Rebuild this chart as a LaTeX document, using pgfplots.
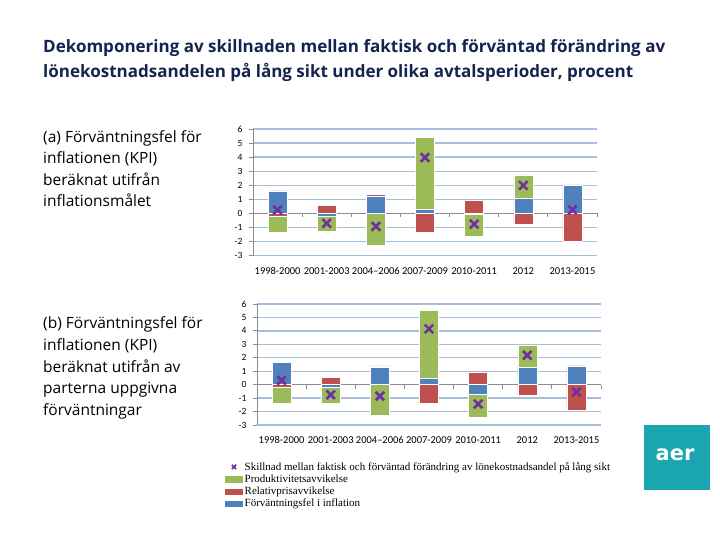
\documentclass[border=0pt]{standalone}
\usepackage{pgfplots}
\pgfplotsset{compat=1.18}
\usepackage{pgfplotstable}
\usepackage{fontspec}
\setmainfont{Carlito}
\newfontfamily\osans{Open Sans}
\newfontfamily\tms{Liberation Serif}
\newfontfamily\logofont{DejaVu Sans}
\definecolor{cblue}{RGB}{79,129,189}
\definecolor{cred}{RGB}{192,80,77}
\definecolor{cgreen}{RGB}{155,187,89}
\definecolor{cpurple}{RGB}{112,48,160}
\definecolor{cgrid}{RGB}{165,190,220}
\definecolor{caxis}{RGB}{140,140,140}
\definecolor{ctitle}{RGB}{20,35,80}
\definecolor{cteal}{RGB}{27,165,176}

% (a) positive (p) and negative (n) parts of each component; diff = total
\pgfplotstableread{
x bp rp gp bn rn gn diff
0 1.60 0.00 0.00 0.00 -0.20 -1.15 0.25
1 0.00 0.60 0.00 -0.20 0.00 -1.08 -0.70
2 1.25 0.10 0.00 0.00 0.00 -2.27 -0.92
3 0.30 0.00 5.09 0.00 -1.35 0.00 3.97
4 0.00 0.95 0.00 -0.05 0.00 -1.60 -0.75
5 1.06 0.00 1.68 0.00 -0.78 0.00 1.99
6 2.03 0.00 0.00 0.00 -1.94 0.00 0.26
}\dataA
% (b)
\pgfplotstableread{
x bp rp gp bn rn gn diff
0 1.67 0.00 0.00 0.00 -0.20 -1.17 0.32
1 0.00 0.57 0.00 -0.20 0.00 -1.15 -0.75
2 1.30 0.10 0.00 0.00 0.00 -2.24 -0.85
3 0.45 0.00 5.05 0.00 -1.37 0.00 4.15
4 0.00 0.95 0.00 -0.75 0.00 -1.66 -1.44
5 1.29 0.00 1.65 0.00 -0.80 0.00 2.19
6 1.39 0.00 0.00 0.00 -1.92 0.00 -0.55
}\dataB

\pgfplotsset{
  base/.style={scale only axis, width=344pt, xmin=-0.5, xmax=6.5, ymin=-3, ymax=6, clip=false},
  hid/.style={base, hide axis},
  stk/.style={hid, ybar stacked, bar width=19pt},
  seg/.style={draw=white, line width=0.5pt, fill=#1},
  gridax/.style={base,
    axis x line*=bottom, axis y line*=left,
    x axis line style={draw=none},
    y axis line style={caxis, line width=0.9pt},
    xtick={0,...,6},
    xticklabels={1998-2000,2001-2003,2004--2006,2007-2009,2010-2011,2012,2013-2015},
    xtick style={draw=none},
    xticklabel style={font=\fontsize{10.5}{12}\selectfont, yshift=-4pt},
    ytick={-3,...,6},
    yticklabels={-3,-2,-1,0,1,2,3,4,5,6},
    ytick style={caxis, line width=0.8pt},
    tick align=outside, major tick length=4pt,
    yticklabel style={font=\fontsize{9.5}{11}\selectfont, xshift=-3pt},
    ymajorgrids, grid style={cgrid, line width=1.3pt},
  },
  xmk/.style={only marks, mark=x, mark size=6pt, line width=2.6pt, color=cpurple},
  xleg/.style={legend image code/.code={\draw[cpurple, mark=x, mark size=3pt, line width=1.6pt] plot coordinates {(0.3cm,0cm)};}},
  pa/.style={at={(253pt,284.3pt)}, anchor=south west, height=126.7pt},
  pb/.style={at={(257pt,115pt)}, anchor=south west, height=121pt},
}

\begin{document}
\begin{tikzpicture}[x=1pt,y=1pt]
\useasboundingbox (0,0) rectangle (720,540);

% title
\node[anchor=base west, inner sep=0, text=ctitle, font=\osans\bfseries\fontsize{17}{20}\selectfont] at (43,540-53) {Dekomponering av skillnaden mellan faktisk och förväntad förändring av};
\node[anchor=base west, inner sep=0, text=ctitle, font=\osans\bfseries\fontsize{17}{20}\selectfont] at (43,540-78) {lönekostnadsandelen på lång sikt under olika avtalsperioder, procent};

% left descriptions
\begin{scope}[every node/.style={anchor=base west, inner sep=0, font=\osans\fontsize{15.5}{18}\selectfont}]
\node at (43,540-143) {(a) Förväntningsfel för};
\node at (43,540-164) {inflationen (KPI)};
\node at (43,540-186) {beräknat utifrån};
\node at (43,540-207) {inflationsmålet};
\node at (43,540-329) {(b) Förväntningsfel för};
\node at (43,540-351) {inflationen (KPI)};
\node at (43,540-373) {beräknat utifrån av};
\node at (43,540-394) {parterna uppgivna};
\node at (43,540-416) {förväntningar};
\end{scope}

% ===== panel (a) =====
\begin{axis}[gridax, pa]
\draw[caxis, line width=1.2pt] (axis cs:-0.5,0) -- (axis cs:6.5,0);
\pgfplotsinvokeforeach{-0.5,0.5,1.5,2.5,3.5,4.5,5.5,6.5}{\draw[caxis, line width=0.8pt] (axis cs:#1,0) -- ++(0pt,-4pt);}
\end{axis}
\begin{axis}[stk, pa]
\addplot[seg=cblue] table[x=x, y=bp] {\dataA};
\addplot[seg=cred] table[x=x, y=rp] {\dataA};
\addplot[seg=cgreen] table[x=x, y=gp] {\dataA};
\end{axis}
\begin{axis}[stk, pa]
\addplot[seg=cblue] table[x=x, y=bn] {\dataA};
\addplot[seg=cred] table[x=x, y=rn] {\dataA};
\addplot[seg=cgreen] table[x=x, y=gn] {\dataA};
\end{axis}
\begin{axis}[hid, pa]
\addplot[xmk] table[x=x, y=diff] {\dataA};
\end{axis}

% ===== panel (b) =====
\begin{axis}[gridax, pb]
\draw[caxis, line width=1.2pt] (axis cs:-0.5,0) -- (axis cs:6.5,0);
\pgfplotsinvokeforeach{-0.5,0.5,1.5,2.5,3.5,4.5,5.5,6.5}{\draw[caxis, line width=0.8pt] (axis cs:#1,0) -- ++(0pt,-4pt);}
\end{axis}
\begin{axis}[stk, pb]
\addplot[seg=cblue] table[x=x, y=bp] {\dataB};
\addplot[seg=cred] table[x=x, y=rp] {\dataB};
\addplot[seg=cgreen] table[x=x, y=gp] {\dataB};
\end{axis}
\begin{axis}[stk, pb]
\addplot[seg=cblue] table[x=x, y=bn] {\dataB};
\addplot[seg=cred] table[x=x, y=rn] {\dataB};
\addplot[seg=cgreen] table[x=x, y=gn] {\dataB};
\end{axis}
\begin{axis}[hid, pb,
  legend style={at={(-0.093,-0.2975)}, anchor=north west, draw=none, fill=none,
    inner sep=0pt, row sep=1pt, font=\tms\fontsize{11}{12}\selectfont,
    nodes={inner ysep=1pt}},
  legend cell align=left]
\addplot[xmk, xleg] table[x=x, y=diff] {\dataB};
\addlegendentry{Skillnad mellan faktisk och förväntad förändring av lönekostnadsandel på lång sikt}
\addlegendimage{legend image code/.code={\fill[cgreen] (0cm,-0.09cm) rectangle (0.6cm,0.09cm);}}
\addlegendentry{Produktivitetsavvikelse}
\addlegendimage{legend image code/.code={\fill[cred] (0cm,-0.09cm) rectangle (0.6cm,0.09cm);}}
\addlegendentry{Relativprisavvikelse}
\addlegendimage{legend image code/.code={\fill[cblue] (0cm,-0.09cm) rectangle (0.6cm,0.09cm);}}
\addlegendentry{Förväntningsfel i inflation}
\end{axis}

% logo
\node[fill=cteal, minimum width=66pt, minimum height=65pt, inner sep=0] at (677,540-457.5) {};
\node[text=white, font=\logofont\bfseries\fontsize{21}{24}\selectfont] at (675,540-455) {aer};
\end{tikzpicture}
\end{document}
